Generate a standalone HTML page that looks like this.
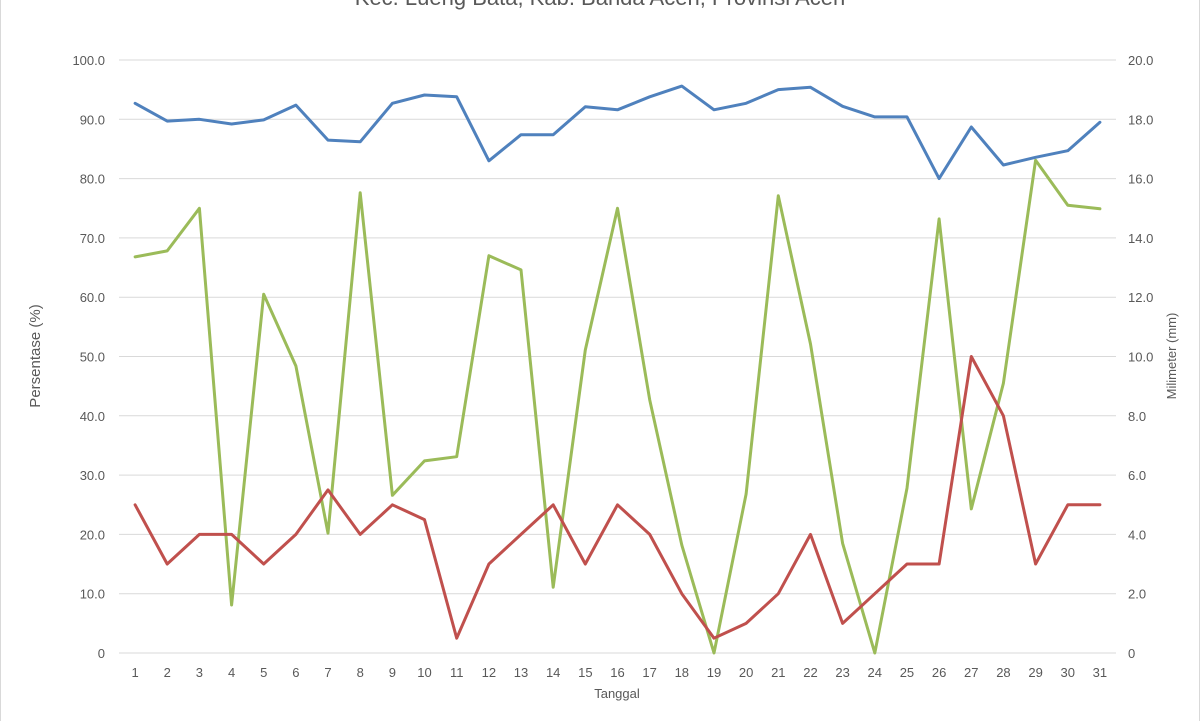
<!DOCTYPE html>
<html><head><meta charset="utf-8"><style>
html,body{margin:0;padding:0;background:#fff;}
svg{display:block;font-family:"Liberation Sans",sans-serif;}
</style></head><body>
<svg id="chart" width="1200" height="721" viewBox="0 0 1200 721">
<rect x="0.5" y="-2" width="1199" height="730" fill="#fff" stroke="#d9d9d9"/>
<text x="600" y="5" text-anchor="middle" font-size="22" fill="#595959">Kec. Lueng Bata, Kab. Banda Aceh, Provinsi Aceh</text>
<g id="grid"></g>
<g id="series"></g>
<g id="axes"></g>
<text x="40" y="356" transform="rotate(-90 40 356)" text-anchor="middle" font-size="15" fill="#595959">Persentase (%)</text>
<text x="1176" y="356" transform="rotate(-90 1176 356)" text-anchor="middle" font-size="13" fill="#595959">Milimeter (mm)</text>
<text x="617" y="698" text-anchor="middle" font-size="13" fill="#595959">Tanggal</text>
</svg>
<script>
const categories = [1,2,3,4,5,6,7,8,9,10,11,12,13,14,15,16,17,18,19,20,21,22,23,24,25,26,27,28,29,30,31];
const leftTicks = ["0","10.0","20.0","30.0","40.0","50.0","60.0","70.0","80.0","90.0","100.0"];
const rightTicks = ["0","2.0","4.0","6.0","8.0","10.0","12.0","14.0","16.0","18.0","20.0"];
const blueSeries = [92.7,89.7,90.0,89.2,89.9,92.4,86.5,86.2,92.7,94.1,93.8,83.0,87.4,87.4,92.1,91.6,93.8,95.6,91.6,92.7,95.0,95.4,92.2,90.4,90.4,80.0,88.7,82.3,83.6,84.7,89.5];
const greenSeries = [66.8,67.8,75.0,8.1,60.5,48.4,20.2,77.6,26.6,32.4,33.1,67.0,64.6,11.1,51.1,75.0,42.7,18.2,0,26.8,77.1,52.1,18.5,0,27.8,73.2,24.3,45.5,83.1,75.5,74.9];
const redSeriesMm = [5,3,4,4,3,4,5.5,4,5,4.5,0.5,3,4,5,3,5,4,2,0.5,1,2,4,1,2,3,3,10,8,3,5,5];

const NS="http://www.w3.org/2000/svg";
const X0=119, X1=1116, Y0=653, Y1=60;
const band=(X1-X0)/categories.length;
const xPos=i=>X0+band*(i+0.5);
const yL=v=>Y0-(v/100)*(Y0-Y1);
const yR=v=>Y0-(v/20)*(Y0-Y1);
function mk(tag,attrs,parent){const e=document.createElementNS(NS,tag);for(const k in attrs)e.setAttribute(k,attrs[k]);parent.appendChild(e);return e;}
const grid=document.getElementById('grid'), axes=document.getElementById('axes'), series=document.getElementById('series');
leftTicks.forEach((t,i)=>{
  const y=Y0-i*(Y0-Y1)/10;
  const g=mk('line',{x1:X0,x2:X1,y1:y,y2:y,stroke:'#d9d9d9','stroke-width':1},grid);
  
  
  const tl=mk('text',{x:105,y:y+5,'text-anchor':'end','font-size':13,fill:'#595959'},axes);
  tl.textContent=t;
  
  
  const tr=mk('text',{x:1128,y:y+5,'text-anchor':'start','font-size':13,fill:'#595959'},axes);
  tr.textContent=rightTicks[i];
  
  
});
categories.forEach((c,i)=>{
  const t=mk('text',{x:xPos(i),y:677,'text-anchor':'middle','font-size':13,fill:'#595959'},axes);
  t.textContent=c;
  
  
});
function line(vals,fy,color,name){
  const pts=vals.map((v,i)=>xPos(i).toFixed(1)+','+fy(v).toFixed(1)).join(' ');
  const p=mk('polyline',{points:pts,fill:'none',stroke:color,'stroke-width':3,'stroke-linejoin':'round','stroke-linecap':'round'},series);
  
  
}
line(greenSeries,yL,'#9bbb59','green-series-line');
line(redSeriesMm,yR,'#c0504d','red-series-line');
line(blueSeries,yL,'#4f81bd','blue-series-line');
</script>
</body></html>
